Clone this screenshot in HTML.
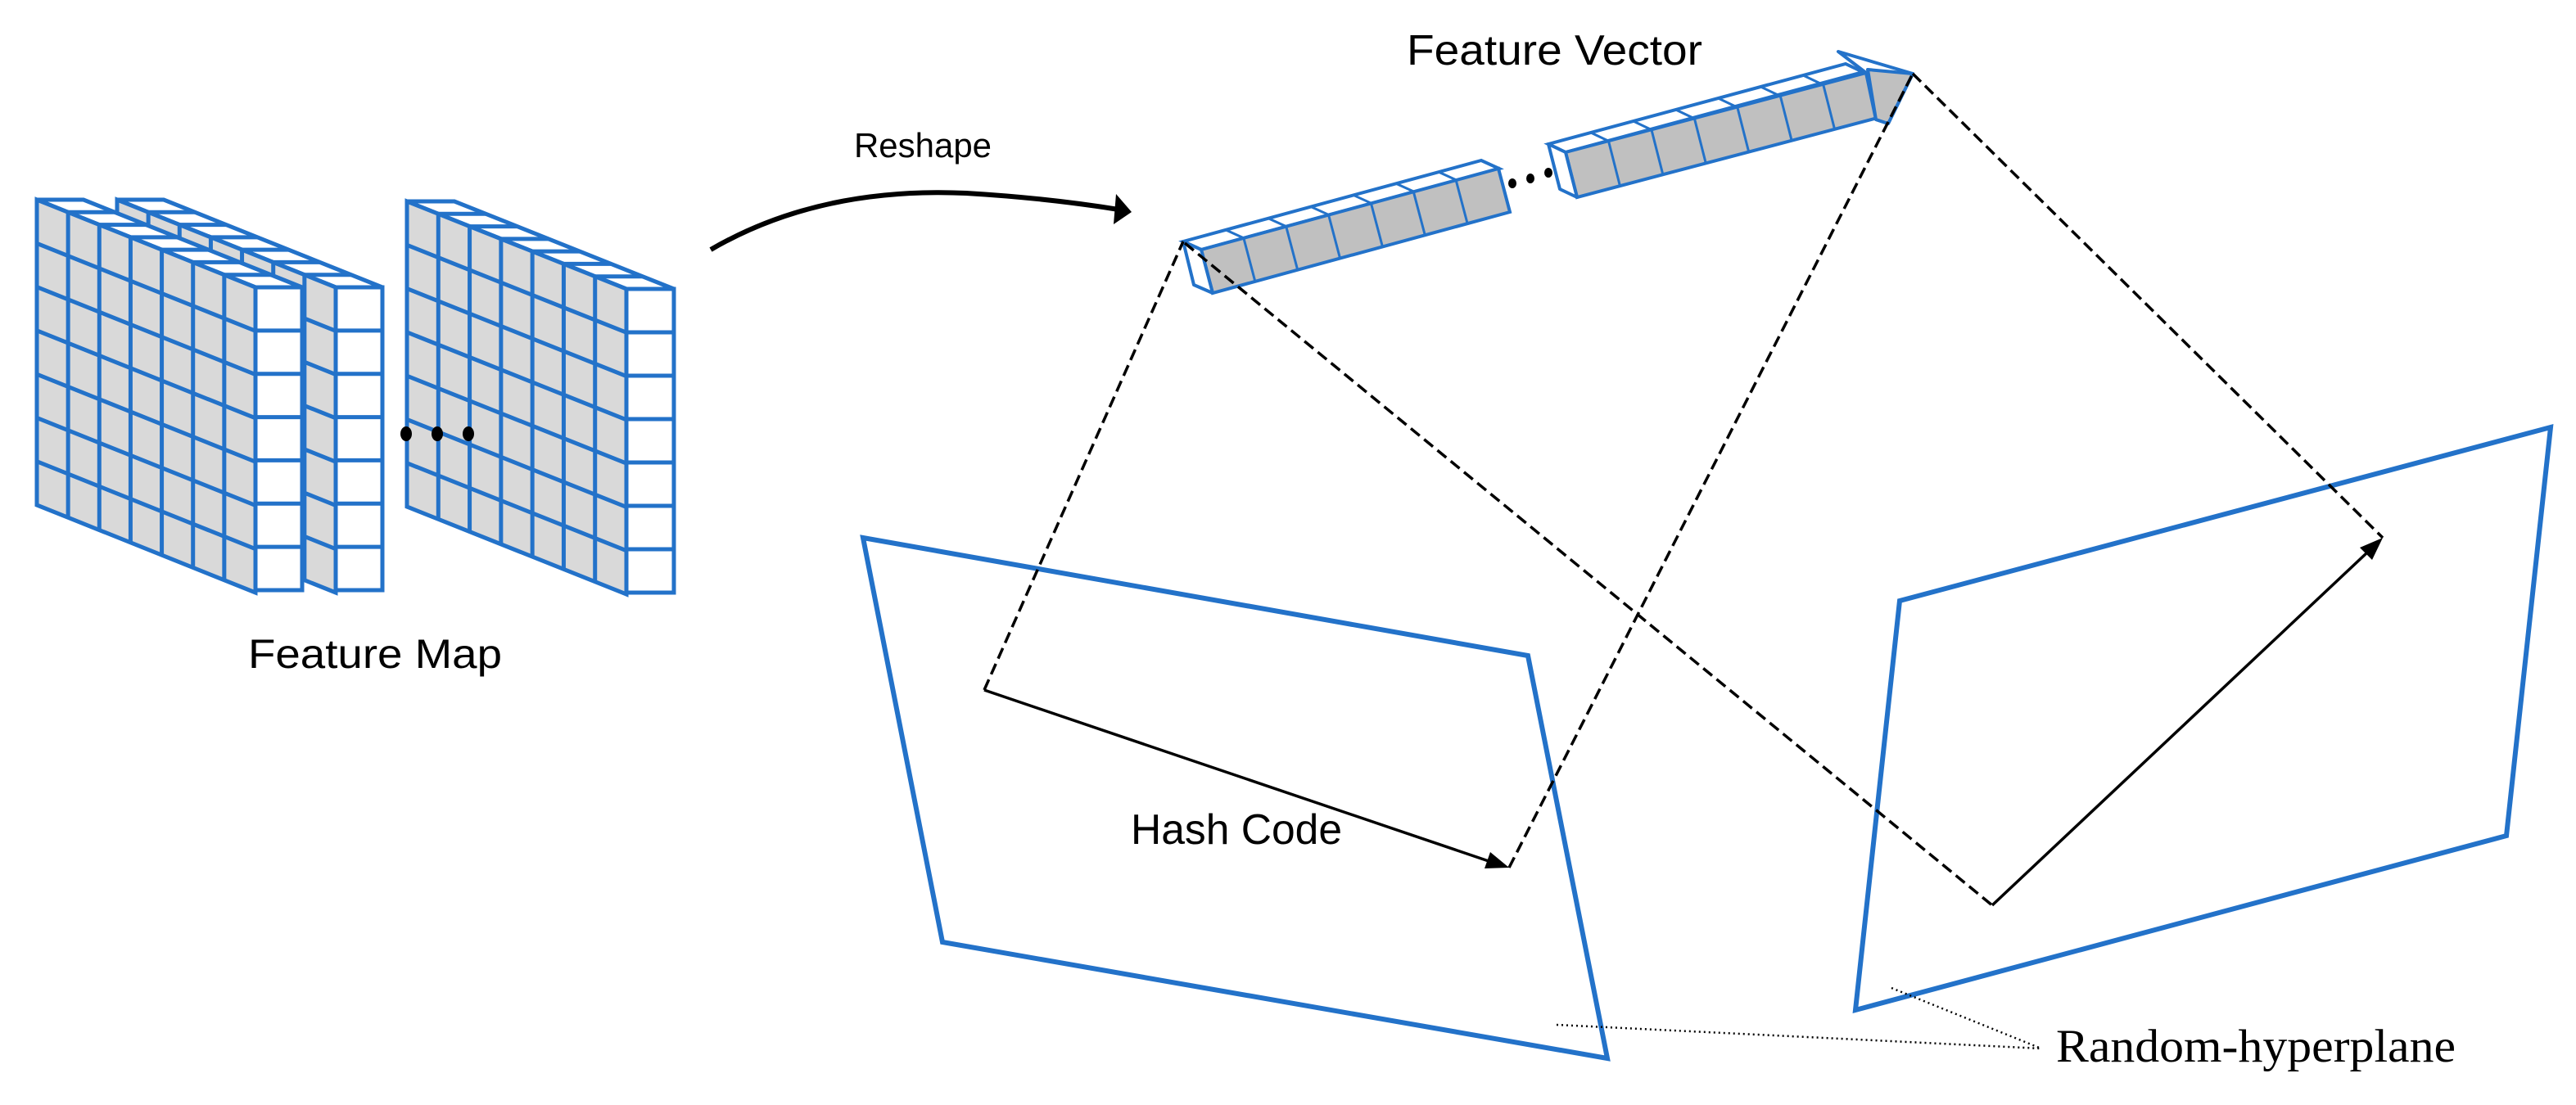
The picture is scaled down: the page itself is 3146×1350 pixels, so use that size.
<!DOCTYPE html>
<html><head><meta charset="utf-8"><style>
html,body{margin:0;padding:0;background:#fff;}
svg{display:block;}
</style></head><body>
<svg width="3146" height="1350" viewBox="0 0 3146 1350" xmlns="http://www.w3.org/2000/svg">
<defs>
<g id="face">
<rect x="0" y="0" width="1" height="1" fill="#d9d9d9" stroke="#2372c9" stroke-width="5" vector-effect="non-scaling-stroke"/>
<path d="M0.142857,0V1M0.285714,0V1M0.428571,0V1M0.571429,0V1M0.714286,0V1M0.857143,0V1M0,0.142857H1M0,0.285714H1M0,0.428571H1M0,0.571429H1M0,0.714286H1M0,0.857143H1" stroke="#2372c9" stroke-width="5" vector-effect="non-scaling-stroke" fill="none"/>
</g>
<g id="strip">
<rect x="0" y="0" width="1" height="1" fill="#fff" stroke="#2372c9" stroke-width="5" vector-effect="non-scaling-stroke"/>
<path d="M0,0.142857H1M0,0.285714H1M0,0.428571H1M0,0.571429H1M0,0.714286H1M0,0.857143H1" stroke="#2372c9" stroke-width="5" vector-effect="non-scaling-stroke" fill="none"/>
</g>
<g id="vcells">
<rect x="0" y="0" width="1" height="1" fill="#c0c0c0" stroke="#2372c9" stroke-width="4" vector-effect="non-scaling-stroke"/>
<path d="M0.142857,0V1M0.285714,0V1M0.428571,0V1M0.571429,0V1M0.714286,0V1M0.857143,0V1" stroke="#2372c9" stroke-width="3" vector-effect="non-scaling-stroke" fill="none"/>
</g>
<g id="vtop">
<rect x="0" y="0" width="1" height="1" fill="#fff" stroke="#2372c9" stroke-width="4" vector-effect="non-scaling-stroke"/>
<path d="M0.142857,0V1M0.285714,0V1M0.428571,0V1M0.571429,0V1M0.714286,0V1M0.857143,0V1" stroke="#2372c9" stroke-width="3" vector-effect="non-scaling-stroke" fill="none"/>
</g>
</defs>

<!-- Slab 2 (behind) -->
<use href="#strip" transform="matrix(57,0,267,107,143,244)"/>
<use href="#face" transform="matrix(267,107,0,373,143,244)"/>
<use href="#strip" transform="matrix(57,0,0,370,410,351)"/>
<!-- Slab 1 -->
<use href="#strip" transform="matrix(57,0,267,107,45,244)"/>
<use href="#face" transform="matrix(267,107,0,373,45,244)"/>
<use href="#strip" transform="matrix(57,0,0,370,312,351)"/>
<!-- Slab 3 -->
<use href="#strip" transform="matrix(58,0,268,107,497,246)"/>
<use href="#face" transform="matrix(268,107,0,373,497,246)"/>
<use href="#strip" transform="matrix(58,0,0,371,765,353)"/>
<ellipse cx="496" cy="530" rx="7" ry="9" fill="#000"/>
<ellipse cx="534" cy="530" rx="7" ry="9" fill="#000"/>
<ellipse cx="572" cy="530" rx="7" ry="9" fill="#000"/>
<text x="303" y="816" font-family="Liberation Sans, sans-serif" font-size="50" textLength="310" lengthAdjust="spacingAndGlyphs">Feature Map</text>

<!-- Reshape arrow -->
<text x="1043" y="192" font-family="Liberation Sans, sans-serif" font-size="42" textLength="168" lengthAdjust="spacingAndGlyphs">Reshape</text>
<path d="M868,305 Q1000,228 1180,236 Q1280,242 1366,256" fill="none" stroke="#000" stroke-width="6"/>
<polygon points="1382,259 1363,237 1360,274" fill="#000"/>

<!-- Feature vector seg 1 -->
<use href="#vtop" transform="matrix(364,-99,22,10,1445,295)"/>
<use href="#vcells" transform="matrix(363,-99,14,53,1467,305)"/>
<polygon points="1445,295 1467,305 1481,358 1458,348" fill="#fff" stroke="#2372c9" stroke-width="4" stroke-linejoin="round"/>
<!-- dots -->
<ellipse cx="1847" cy="224" rx="5" ry="6" fill="#000"/>
<ellipse cx="1869" cy="218" rx="5" ry="6" fill="#000"/>
<ellipse cx="1891" cy="211" rx="5" ry="6" fill="#000"/>
<!-- seg 2 -->
<use href="#vtop" transform="matrix(363,-98,21,10,1891,176)"/>
<use href="#vcells" transform="matrix(367,-97,14,55,1912,186)"/>
<polygon points="1891,176 1912,186 1926,241 1905,231" fill="#fff" stroke="#2372c9" stroke-width="4" stroke-linejoin="round"/>
<polygon points="2245,63 2336,90 2306,151 2291,146 2279,89" fill="#fff" stroke="#2372c9" stroke-width="4" stroke-linejoin="round"/>
<polygon points="2281,85 2336,90 2306,151 2291,146" fill="#c0c0c0" stroke="#2372c9" stroke-width="4" stroke-linejoin="round"/>
<text x="1718" y="79" font-family="Liberation Sans, sans-serif" font-size="52" textLength="361" lengthAdjust="spacingAndGlyphs">Feature Vector</text>

<!-- Planes -->
<polygon points="1054,657 1866,801 1963,1293 1151,1151" fill="none" stroke="#2372c9" stroke-width="6"/>
<polygon points="2320,734 3115,522 3061,1021 2266,1234" fill="none" stroke="#2372c9" stroke-width="6"/>

<!-- Dashed projections -->
<g stroke="#000" stroke-width="3.5" stroke-dasharray="14,7" fill="none">
<line x1="1202" y1="843" x2="1445" y2="295"/>
<line x1="1843" y1="1060" x2="2336" y2="90"/>
<line x1="1447" y1="297" x2="2433" y2="1106"/>
<line x1="2336" y1="90" x2="2910" y2="657"/>
</g>

<!-- Hash vectors -->
<line x1="1202" y1="843" x2="1818" y2="1052" stroke="#000" stroke-width="3.5"/>
<polygon points="1843,1060 1813,1061 1820,1041" fill="#000"/>
<text x="1381" y="1031" font-family="Liberation Sans, sans-serif" font-size="52" textLength="258" lengthAdjust="spacingAndGlyphs">Hash Code</text>
<line x1="2433" y1="1106" x2="2891" y2="675" stroke="#000" stroke-width="3.5"/>
<polygon points="2910,657 2897,684 2882,669" fill="#000"/>

<!-- Leaders -->
<g stroke="#000" stroke-width="2.5" stroke-dasharray="2,4" fill="none">
<line x1="1901" y1="1252" x2="2493" y2="1281"/>
<line x1="2310" y1="1207" x2="2493" y2="1281"/>
</g>
<text x="2511" y="1297" font-family="Liberation Serif, serif" font-size="57" textLength="488" lengthAdjust="spacingAndGlyphs">Random-hyperplane</text>
</svg>
</body></html>
